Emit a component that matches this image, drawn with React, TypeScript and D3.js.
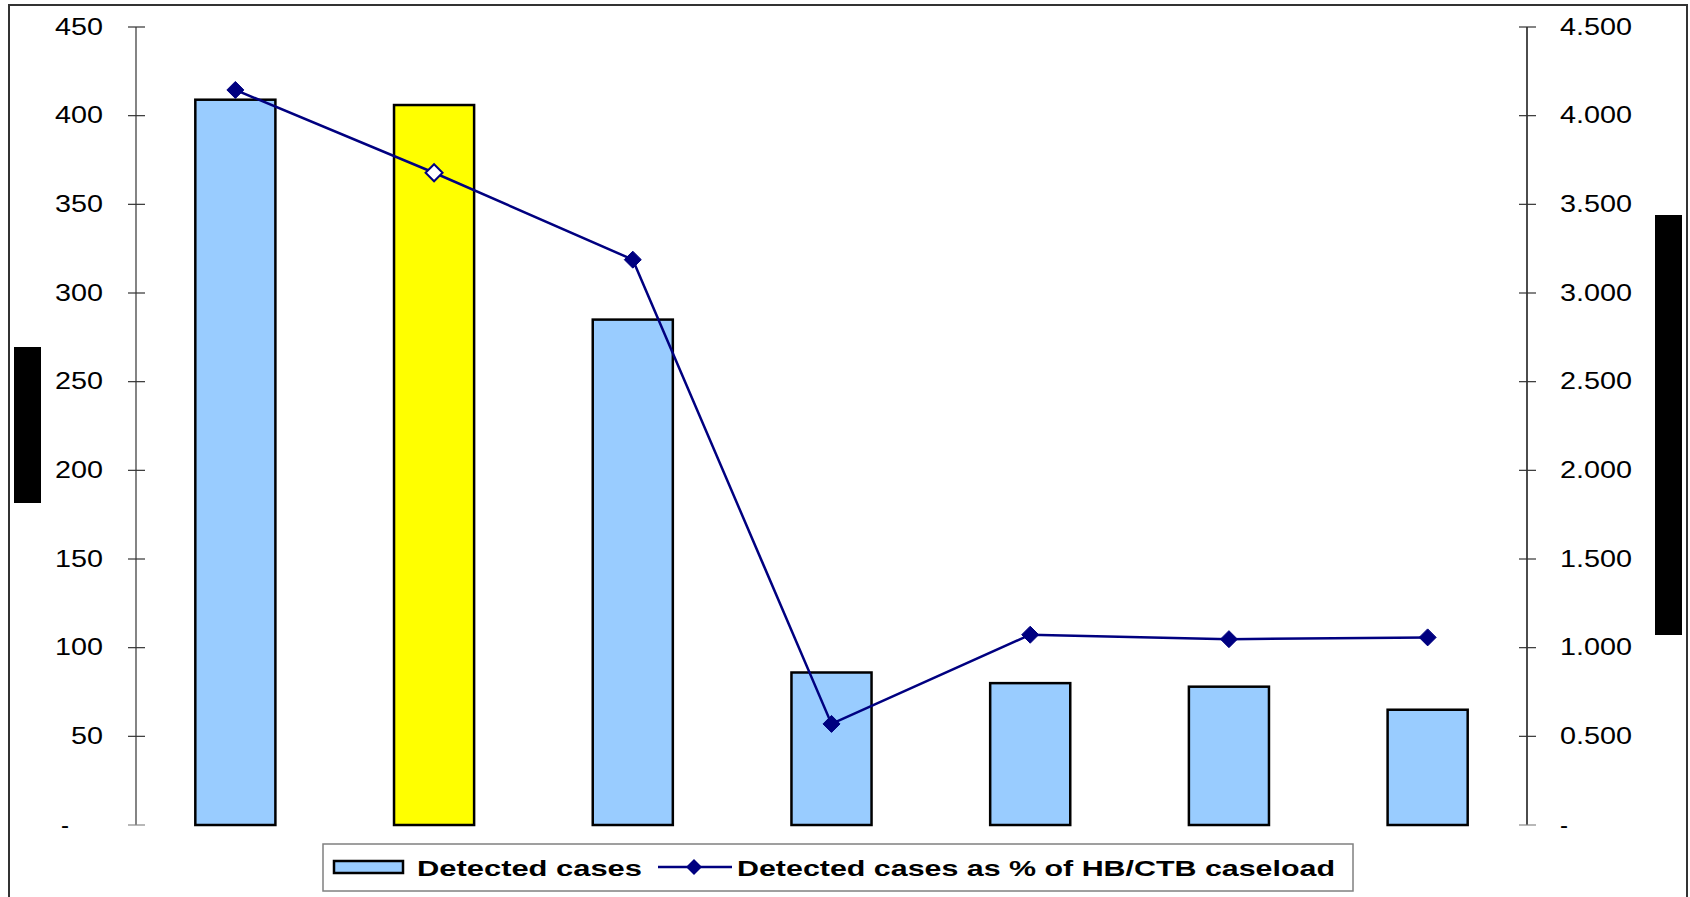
import React from 'react';
import * as d3 from 'd3';

// chart data
const categories = ['1', '2', '3', '4', '5', '6', '7'];
const detectedCases = [409, 406, 285, 86, 80, 78, 65];
const pctCaseload = [4.145, 3.678, 3.188, 0.57, 1.073, 1.048, 1.058];
const highlighted = [false, true, false, false, false, false, false];
const leftTicks = [0, 50, 100, 150, 200, 250, 300, 350, 400, 450];
const rightTicks = [0, 0.5, 1, 1.5, 2, 2.5, 3, 3.5, 4, 4.5];
const legendLabels = ['Detected cases', 'Detected cases as % of HB/CTB caseload'];

const W = 1690;
const H = 897;
const FONT = '"Liberation Sans", Arial, sans-serif';
const NAVY = '#000080';
const BAR_BLUE = '#99CCFF';

// stretched glyph width used by the source image
const labelWidth = (s: string) =>
  s.split('').reduce((w, c) => w + (c === '.' ? 8 : c === '-' ? 8 : 16), 0);

const diamond = (cx: number, cy: number, r: number) =>
  `M${cx},${cy - r}L${cx + r},${cy}L${cx},${cy + r}L${cx - r},${cy}Z`;

export default function App() {
  const axisL = 136;
  const axisR = 1527;
  const top = 27;
  const bottom = 825;

  const x = d3.scaleBand<string>()
    .domain(categories)
    .range([axisL, axisR])
    .paddingInner(0.597)
    .paddingOuter(0.2985);

  const yL = d3.scaleLinear().domain([0, 450]).range([bottom, top]);
  const yR = d3.scaleLinear().domain([0, 4.5]).range([bottom, top]);

  const cx = (c: string) => (x(c) ?? 0) + x.bandwidth() / 2;

  const line = d3.line<number>()
    .x((_, i) => cx(categories[i]))
    .y(d => yR(d));

  const fmtL = (v: number) => (v === 0 ? '-' : d3.format('d')(v));
  const fmtR = (v: number) => (v === 0 ? '-' : d3.format('.3f')(v));

  return (
    <svg width={W} height={H} style={{ position: 'absolute', left: 0, top: 0, background: '#fff' }}
      fontFamily={FONT}>
      {/* outer chart frame */}
      <rect x={9} y={5} width={1678} height={920} fill="#fff" stroke="#333" strokeWidth={2} />

      {/* redacted axis titles */}
      <rect x={14} y={347} width={27} height={156} fill="#000" />
      <rect x={1655} y={215} width={27} height={420} fill="#000" />

      {/* bars */}
      {detectedCases.map((v, i) => (
        <rect key={i}
          x={x(categories[i])}
          y={yL(v)}
          width={x.bandwidth()}
          height={yL(0) - yL(v)}
          fill={highlighted[i] ? '#FFFF00' : BAR_BLUE}
          stroke="#000"
          strokeWidth={2.5} />
      ))}

      {/* left axis */}
      <line x1={axisL} x2={axisL} y1={top} y2={bottom} stroke="#333" strokeWidth={1.2} />
      {leftTicks.map(t => {
        const lbl = fmtL(t);
        return (
          <g key={t}>
            <line x1={128} x2={145} y1={yL(t)} y2={yL(t)} stroke={t === 0 ? '#888' : '#333'} strokeWidth={1.2} />
            <text x={t === 0 ? 69 : 103} y={yL(t) + 7.5} textAnchor="end" fontSize={24} fill="#000"
              textLength={labelWidth(lbl)} lengthAdjust="spacingAndGlyphs">{lbl}</text>
          </g>
        );
      })}

      {/* right axis */}
      <line x1={axisR} x2={axisR} y1={top} y2={bottom} stroke="#000" strokeWidth={1.4} />
      {rightTicks.map(t => {
        const lbl = fmtR(t);
        return (
          <g key={t}>
            <line x1={1519} x2={1536} y1={yR(t)} y2={yR(t)} stroke={t === 0 ? '#888' : '#333'} strokeWidth={1.2} />
            <text x={1560} y={yR(t) + 7.5} textAnchor="start" fontSize={24} fill="#000"
              textLength={labelWidth(lbl)} lengthAdjust="spacingAndGlyphs">{lbl}</text>
          </g>
        );
      })}

      {/* line series */}
      <path d={line(pctCaseload) ?? ''} fill="none" stroke={NAVY} strokeWidth={2.5} />
      {pctCaseload.map((v, i) => (
        <path key={i} d={diamond(cx(categories[i]), yR(v), 8.5)}
          fill={highlighted[i] ? '#fff' : NAVY}
          stroke={NAVY} strokeWidth={highlighted[i] ? 2 : 1} />
      ))}

      {/* legend */}
      <g>
        <rect x={323} y={844} width={1030} height={47} fill="#fff" stroke="#808080" strokeWidth={1.5} />
        <rect x={334} y={861} width={69} height={12} fill={BAR_BLUE} stroke="#000" strokeWidth={2.5} />
        <text x={417} y={875.5} fontSize={22} fontWeight="bold" fill="#000"
          textLength={225} lengthAdjust="spacingAndGlyphs">{legendLabels[0]}</text>
        <line x1={658} x2={732} y1={867} y2={867} stroke={NAVY} strokeWidth={2.5} />
        <path d={diamond(694, 867, 8)} fill={NAVY} />
        <text x={737} y={875.5} fontSize={22} fontWeight="bold" fill="#000"
          textLength={598} lengthAdjust="spacingAndGlyphs">{legendLabels[1]}</text>
      </g>
    </svg>
  );
}
